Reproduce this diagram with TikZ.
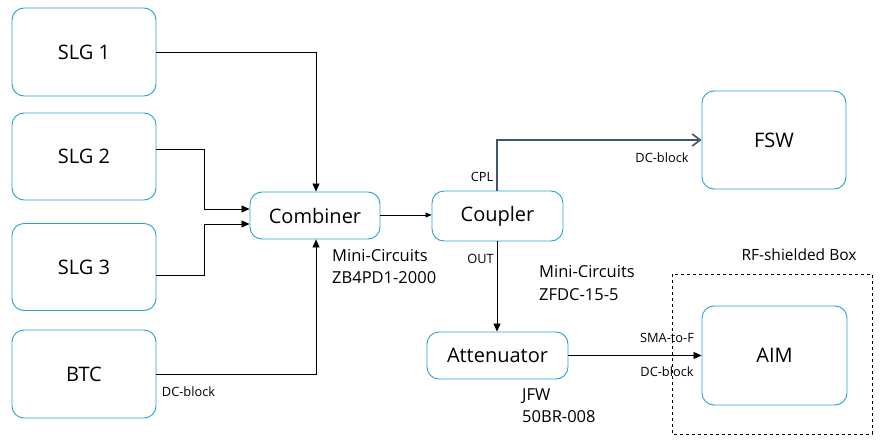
\documentclass[tikz,border=0pt]{standalone}
\usepackage{fontspec}
\setmainfont{Open Sans}
\usetikzlibrary{arrows.meta}
\definecolor{boxblue}{HTML}{2AA0D2}
\definecolor{slate}{HTML}{44546A}
\tikzset{
  blk/.style={draw=boxblue, line width=0.9pt, rounded corners=12pt, inner sep=0pt, font=\fontsize{20}{22}\selectfont},
  lbl/.style={font=\fontsize{12.8}{14}\selectfont, inner sep=0pt},
  note/.style={font=\fontsize{16.5}{22.5}\selectfont, inner sep=0pt, align=left, anchor=west},
  conn/.style={line width=0.8pt, -{Triangle[length=8pt,width=7pt]}},
}
\begin{document}
\begin{tikzpicture}[x=1pt,y=-1pt]
\useasboundingbox (0,0) rectangle (884,447);
\node[blk, minimum width=144pt, minimum height=88pt] (slg1) at (84,52) {SLG 1};
\node[blk, minimum width=144pt, minimum height=87pt] (slg2) at (84,156.5) {SLG 2};
\node[blk, minimum width=144pt, minimum height=87pt] (slg3) at (84,267) {SLG 3};
\node[blk, minimum width=144pt, minimum height=88pt] (btc) at (84,374) {BTC};
\node[blk, minimum width=130pt, minimum height=47pt] (comb) at (315,215.5) {Combiner};
\node[blk, minimum width=131pt, minimum height=50pt] (coup) at (497.5,216) {Coupler};
\node[blk, minimum width=144pt, minimum height=98pt] (fsw) at (774,140) {FSW};
\node[blk, minimum width=141pt, minimum height=47pt] (att) at (497.5,355.5) {Attenuator};
\node[blk, minimum width=145pt, minimum height=99pt] (aim) at (774.5,355.5) {AIM};
\draw[dashed, line width=0.8pt] (672,274) rectangle (872,434);
\node[lbl, font=\fontsize{15.5}{17}\selectfont] (rfbox) at (799,255) {RF-shielded Box};

\coordinate (c1) at (316,52);
\coordinate (c2a) at (204,149);
\coordinate (c2b) at (204,209);
\coordinate (c3a) at (204,275);
\coordinate (c3b) at (204,224);
\coordinate (c4) at (316,374);
\coordinate (cp) at (497,140);

\draw[conn] (slg1.east |- c1) -- (c1) -- (comb.north -| c1);
\draw[conn] (slg2.east |- c2a) -- (c2a) -- (c2b) -- (comb.west |- c2b);
\draw[conn] (slg3.east |- c3a) -- (c3a) -- (c3b) -- (comb.west |- c3b);
\draw[conn] (btc.east |- c4) -- (c4) -- (comb.south -| c4);
\draw[line width=0.8pt, -{Triangle[length=6pt,width=5pt]}] (comb.east |- 0,215) -- (coup.west |- 0,215);
\draw[draw=slate, line width=1.6pt, -{Straight Barb[length=8pt,width=12pt]}] (coup.north -| cp) -- (cp) -- (fsw.west |- cp);
\draw[conn] (coup.south -| cp) -- (att.north -| cp);
\draw[conn] (att.east) -- (aim.west);

\node[lbl] (dcb1) at (188.5,392) {DC-block};
\node[lbl] (cpl) at (482,177) {CPL};
\node[lbl] (dcb2) at (662,158) {DC-block};
\node[lbl] (out) at (480.5,259) {OUT};
\node[lbl] (sma) at (667,338) {SMA-to-F};
\node[lbl] (dcb3) at (667,372) {DC-block};

\node[note] (n1) at (332,266.5) {Mini-Circuits\\ZB4PD1-2000};
\node[note] (n2) at (539,283) {Mini-Circuits\\ZFDC-15-5};
\node[note] (n3) at (522,405.5) {JFW\\50BR-008};
\end{tikzpicture}
\end{document}
